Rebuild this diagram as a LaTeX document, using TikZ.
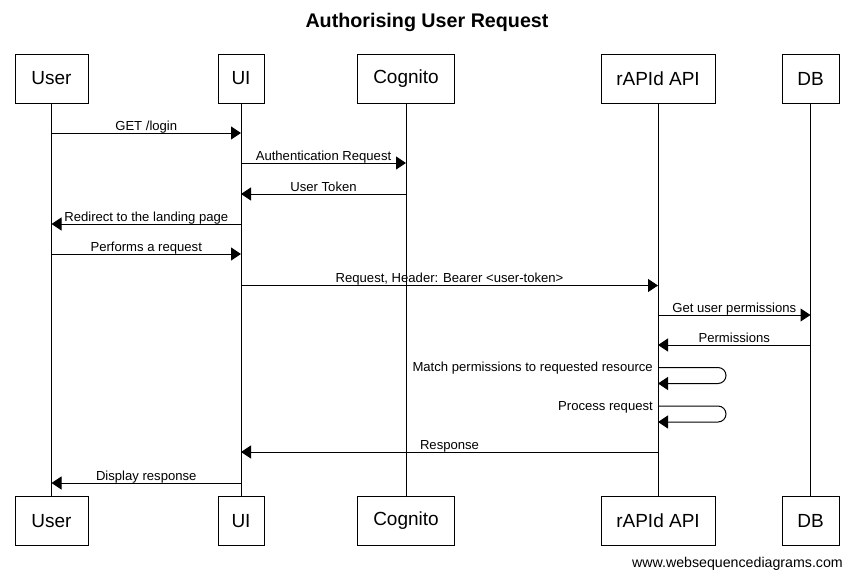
\documentclass[tikz,border=0pt]{standalone}
\usepackage{fontspec}
\setmainfont{Liberation Sans}
\usetikzlibrary{arrows.meta}
\begin{document}
\begin{tikzpicture}[x=1pt,y=-1pt,
  actor/.style={draw,line width=1pt,minimum height=49pt,inner sep=0pt,font=\fontsize{19}{22}\selectfont},
  life/.style={line width=1pt},
  msg/.style={line width=1pt,-{Triangle[length=10pt,width=13pt]}},
  lbl/.style={anchor=base,yshift=3pt,inner sep=0pt,font=\fontsize{13.1}{15}\selectfont},
  slbl/.style={anchor=base east,xshift=-5pt,yshift=-4pt,inner sep=0pt,font=\fontsize{13.1}{15}\selectfont}]
\useasboundingbox (0,0) rectangle (853,579);
\fill[white] (0,0) rectangle (853,579);
\node[font=\fontsize{19.7}{23}\selectfont\bfseries] (title) at (427,22) {Authorising User Request};
% top actors
\node[actor,minimum width=73pt] (uT) at (51.5,78.5) {User};
\node[actor,minimum width=46pt] (iT) at (241,78.5) {UI};
\node[actor,minimum width=97pt] (cT) at (406,78.5) {Cognito};
\node[actor,minimum width=114pt] (rT) at (658,78.5) {rAPId API};
\node[actor,minimum width=57pt] (dT) at (810.5,78.5) {DB};
% bottom actors
\node[actor,minimum width=73pt] (uB) at (51.5,521) {User};
\node[actor,minimum width=46pt] (iB) at (241,521) {UI};
\node[actor,minimum width=97pt] (cB) at (406,521) {Cognito};
\node[actor,minimum width=114pt] (rB) at (658,521) {rAPId API};
\node[actor,minimum width=57pt] (dB) at (810.5,521) {DB};
% lifelines
\foreach \a in {u,i,c,r,d} \draw[life] (\a T.south) -- (\a B.north);
% message levels
\coordinate (m1) at (0,133);
\coordinate (m2) at (0,163);
\coordinate (m3) at (0,194);
\coordinate (m4) at (0,224);
\coordinate (m5) at (0,254);
\coordinate (m6) at (0,285.5);
\coordinate (m7) at (0,315);
\coordinate (m8) at (0,345);
\coordinate (s1) at (0,367.5);
\coordinate (s2) at (0,406);
\coordinate (m9) at (0,452);
\coordinate (m10) at (0,483);
% messages
\draw[msg] (uT |- m1) -- (iT |- m1) node[midway,lbl] {GET /login};
\draw[msg] (iT |- m2) -- (cT |- m2) node[midway,lbl] {Authentication Request};
\draw[msg] (cT |- m3) -- (iT |- m3) node[midway,lbl] {User Token};
\draw[msg] (iT |- m4) -- (uT |- m4) node[midway,lbl] {Redirect to the landing page};
\draw[msg] (uT |- m5) -- (iT |- m5) node[midway,lbl] {Performs a request};
\draw[msg] (iT |- m6) -- (rT |- m6) node[midway,lbl] {Request, Header: Bearer <user-token>};
\draw[msg] (rT |- m7) -- (dT |- m7) node[midway,lbl] {Get user permissions};
\draw[msg] (dT |- m8) -- (rT |- m8) node[midway,lbl] {Permissions};
\draw[msg,rounded corners=8pt] (rT |- s1) -- ++(68,0) -- ++(0,16) -- ++(-68,0);
\node[slbl] (s1l) at (rT |- s1) {Match permissions to requested resource};
\draw[msg,rounded corners=8pt] (rT |- s2) -- ++(68,0) -- ++(0,16) -- ++(-68,0);
\node[slbl] (s2l) at (rT |- s2) {Process request};
\draw[msg] (rT |- m9) -- (iT |- m9) node[midway,lbl] {Response};
\draw[msg] (iT |- m10) -- (uT |- m10) node[midway,lbl] {Display response};
% footer
\node[anchor=base east,inner sep=0pt,font=\fontsize{14.2}{16}\selectfont] (footer) at (843,567) {www.websequencediagrams.com};
\end{tikzpicture}
\end{document}
